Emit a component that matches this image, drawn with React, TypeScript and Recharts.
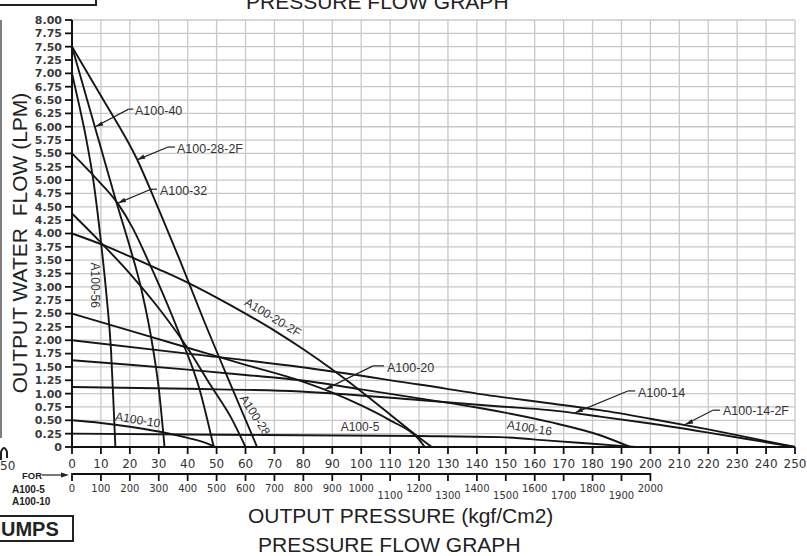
import React from 'react';
import { LineChart, Line, XAxis, YAxis, CartesianGrid, ReferenceDot, ReferenceLine } from 'recharts';

const W = 807;
const H = 556;
const PLOT_W = 723;
const LOW_MAX = 2500;

// flow (LPM) against pressure (kgf/cm2)
const a100_56 = [[0, 7.0], [2.5, 6.4], [5, 5.75], [7.5, 4.95], [10, 3.85], [12, 2.8], [13.5, 1.8], [14.4, 0.75], [15, 0]];
const a100_40 = [[0, 7.5], [5, 6.55], [10, 5.6], [15, 4.65], [20, 3.75], [24, 2.95], [28, 1.85], [30, 1.1], [32, 0]];
const a100_28_2f = [[0, 7.5], [10, 6.58], [22.4, 5.4], [30, 4.45], [37.3, 3.5], [45, 2.45], [55, 1.15], [64, 0]];
const a100_32 = [[0, 5.5], [8, 5.05], [16, 4.55], [21, 4.1], [26, 3.53], [32, 2.8], [38, 2.0], [44, 1.1], [49, 0]];
const a100_28 = [[0, 4.375], [10, 3.83], [20, 3.25], [30, 2.6], [40, 1.85], [48, 1.15], [55, 0.55], [60, 0]];
const a100_20_2f = [[0, 4.0], [10, 3.8], [20, 3.57], [30, 3.33], [40, 3.08], [50, 2.8], [60, 2.5], [70, 2.18], [80, 1.83], [90, 1.45], [100, 1.04], [110, 0.61], [120, 0.18], [124.4, 0]];
const a100_20 = [[0, 2.5], [20, 2.18], [40, 1.86], [60, 1.54], [79, 1.24], [90, 1.02], [100, 0.78], [110, 0.5], [120, 0.14], [122, 0]];
const a100_16 = [[0, 1.625], [20, 1.54], [40, 1.45], [60, 1.35], [79, 1.25], [100, 1.08], [120, 0.91], [140, 0.74], [165, 0.47], [182.6, 0.22], [193, 0]];
const a100_14_2f = [[0, 2.0], [40, 1.75], [79, 1.5], [120, 1.17], [148, 0.94], [165, 0.82], [182.6, 0.69], [200, 0.53], [220, 0.33], [240, 0.11], [250, 0]];
const a100_14 = [[0, 1.125], [40, 1.09], [79, 1.04], [120, 0.88], [148, 0.76], [165, 0.69], [182.6, 0.57], [200, 0.44], [220, 0.27], [240, 0.09], [250, 0]];
// these two are read on the lower scale (0-2000)
const a100_10 = [[0, 0.5], [100, 0.45], [200, 0.38], [300, 0.29], [400, 0.17], [460, 0.08], [495, 0]];
const a100_5 = [[0, 0.25], [400, 0.235], [800, 0.22], [1200, 0.205], [1480, 0.185], [1650, 0.12], [1800, 0.06], [1950, 0]];

const pressureTicks = [0, 10, 20, 30, 40, 50, 60, 70, 80, 90, 100, 110, 120, 130, 140, 150, 160, 170, 180, 190, 200, 210, 220, 230, 240, 250];
const lowTicks = [0, 100, 200, 300, 400, 500, 600, 700, 800, 900, 1000, 1100, 1200, 1300, 1400, 1500, 1600, 1700, 1800, 1900, 2000];
const flowTicks = [0, 0.25, 0.5, 0.75, 1, 1.25, 1.5, 1.75, 2, 2.25, 2.5, 2.75, 3, 3.25, 3.5, 3.75, 4, 4.25, 4.5, 4.75, 5, 5.25, 5.5, 5.75, 6, 6.25, 6.5, 6.75, 7, 7.25, 7.5, 7.75, 8];

const series = [
  { name: 'A100-56', pts: a100_56 },
  { name: 'A100-40', pts: a100_40 },
  { name: 'A100-28-2F', pts: a100_28_2f },
  { name: 'A100-32', pts: a100_32 },
  { name: 'A100-28', pts: a100_28 },
  { name: 'A100-20-2F', pts: a100_20_2f },
  { name: 'A100-20', pts: a100_20 },
  { name: 'A100-16', pts: a100_16 },
  { name: 'A100-14-2F', pts: a100_14_2f },
  { name: 'A100-14', pts: a100_14 },
  { name: 'A100-10', pts: a100_10, low: true },
  { name: 'A100-5', pts: a100_5, low: true },
];

// labels sitting on the curves (centre point, rotation)
const onCurve = [
  { text: 'A100-56', at: [7.95, 3.03], angle: 90 },
  { text: 'A100-20-2F', at: [69.5, 2.43], angle: 31 },
  { text: 'A100-28', at: [63.3, 0.6], angle: 57 },
  { text: 'A100-10', at: [22.8, 0.51], angle: 9 },
  { text: 'A100-16', at: [158.2, 0.36], angle: 9 },
  { text: 'A100-5', at: [99.6, 0.37], angle: 0 },
];

// labels with a leader arrow
const pointed = [
  { text: 'A100-40', at: [21.8, 6.22], from: [21.2, 6.33], elbow: [19.6, 6.33], tip: [8.0, 6.0] },
  { text: 'A100-28-2F', at: [36.3, 5.51], from: [35.6, 5.62], elbow: [33.2, 5.62], tip: [22.5, 5.38] },
  { text: 'A100-32', at: [30.4, 4.72], from: [29.4, 4.83], elbow: [27.3, 4.83], tip: [15.9, 4.57] },
  { text: 'A100-20', at: [108.9, 1.4], from: [107.9, 1.52], elbow: [104.1, 1.52], tip: [87.5, 1.08] },
  { text: 'A100-14', at: [195.7, 0.94], from: [194.7, 1.05], elbow: [192.2, 1.05], tip: [173.9, 0.64] },
  { text: 'A100-14-2F', at: [225.1, 0.6], from: [224.1, 0.69], elbow: [221.6, 0.69], tip: [212, 0.42] },
];

const toPts = (arr: number[][]) => arr.map(([x, y]) => ({ x, y }));

const sans = "'Liberation Sans', Arial, sans-serif";

const LowTick = (props: any) => {
  const { x, y, payload, index } = props;
  const v = payload.value;
  const step = (PLOT_W * 100) / LOW_MAX;
  const dropped = v >= 1100 && (v / 100) % 2 === 1;
  return (
    <g>
      {index < lowTicks.length - 1 && <line x1={x} y1={y} x2={x + step} y2={y} stroke="#111" strokeWidth={2} />}
      <line x1={x} y1={y - 1} x2={x} y2={y + 7} stroke="#111" strokeWidth={1.8} />
      <text x={x} y={y + (dropped ? 25 : 18)} textAnchor="middle" fontSize={10} fontFamily="DejaVu Sans" fill="#333">
        {v}
      </text>
    </g>
  );
};

const CurveText = ({ cx, cy, text, angle }: any) => (
  <text
    x={cx}
    y={cy}
    dy="0.35em"
    textAnchor="middle"
    transform={angle ? `rotate(${angle} ${cx} ${cy})` : undefined}
    fontSize={12}
    fontFamily={sans}
    fill="#333"
  >
    {text}
  </text>
);

const StartText = ({ cx, cy, text }: any) => (
  <text x={cx} y={cy} fontSize={12.5} fontFamily={sans} fill="#333">
    {text}
  </text>
);

const ArrowHead = ({ cx, cy }: any) => {
  const a = (156 * Math.PI) / 180;
  const bx = cx - Math.cos(a) * 8;
  const by = cy - Math.sin(a) * 8;
  const px = -Math.sin(a) * 2.3;
  const py = Math.cos(a) * 2.3;
  return <polygon points={`${cx},${cy} ${bx + px},${by + py} ${bx - px},${by - py}`} fill="#222" />;
};

export default function App() {
  return (
    <div style={{ position: 'absolute', left: 0, top: 0, width: W, height: H, background: '#fff' }}>
      <LineChart width={W} height={H} margin={{ top: 20, right: 12, left: 12, bottom: 42 }}>
        <CartesianGrid stroke="#c8c8c8" strokeWidth={1.3} />
        <XAxis
          dataKey="x"
          type="number"
          domain={[0, 250]}
          ticks={pressureTicks}
          interval={0}
          height={27}
          tickSize={7}
          tickMargin={5}
          axisLine={{ stroke: '#111', strokeWidth: 2 }}
          tickLine={{ stroke: '#111', strokeWidth: 1.8 }}
          tick={{ fontSize: 12, fill: '#333', fontFamily: 'DejaVu Sans' }}
        />
        <XAxis
          xAxisId="low"
          dataKey="x"
          type="number"
          domain={[0, LOW_MAX]}
          ticks={lowTicks}
          interval={0}
          height={40}
          tickSize={0}
          tickMargin={0}
          axisLine={false}
          tickLine={false}
          tick={<LowTick />}
        />
        <YAxis
          type="number"
          domain={[0, 8]}
          ticks={flowTicks}
          interval={0}
          width={60}
          tickSize={7}
          tickMargin={3}
          axisLine={{ stroke: '#111', strokeWidth: 2 }}
          tickLine={{ stroke: '#111', strokeWidth: 1.8 }}
          tick={{ fontSize: 11, fontWeight: 700, fill: '#3a3a3a', fontFamily: 'DejaVu Sans' }}
          tickFormatter={(v: number) => (v === 0 ? '0' : v.toFixed(2))}
        />
        {series.map((s) => (
          <Line
            key={s.name}
            name={s.name}
            data={toPts(s.pts)}
            dataKey="y"
            xAxisId={s.low ? 'low' : 0}
            type="monotone"
            stroke="#161616"
            strokeWidth={1.9}
            dot={false}
            isAnimationActive={false}
          />
        ))}
        {pointed.map((n) => (
          <ReferenceLine
            key={n.text + '-a'}
            segment={[{ x: n.from[0], y: n.from[1] }, { x: n.elbow[0], y: n.elbow[1] }]}
            stroke="#222"
            strokeWidth={1.2}
          />
        ))}
        {pointed.map((n) => (
          <ReferenceLine
            key={n.text + '-b'}
            segment={[{ x: n.elbow[0], y: n.elbow[1] }, { x: n.tip[0], y: n.tip[1] }]}
            stroke="#222"
            strokeWidth={1.2}
          />
        ))}
        {pointed.map((n) => (
          <ReferenceDot key={n.text + '-tip'} x={n.tip[0]} y={n.tip[1]} r={2} shape={(p: any) => <ArrowHead cx={p.cx} cy={p.cy} />} />
        ))}
        {pointed.map((n) => (
          <ReferenceDot key={n.text} x={n.at[0]} y={n.at[1]} r={2} shape={(p: any) => <StartText cx={p.cx} cy={p.cy} text={n.text} />} />
        ))}
        {onCurve.map((n) => (
          <ReferenceDot
            key={n.text}
            x={n.at[0]}
            y={n.at[1]}
            r={2}
            shape={(p: any) => <CurveText cx={p.cx} cy={p.cy} text={n.text} angle={n.angle} />}
          />
        ))}
      </LineChart>
      <svg width={W} height={H} style={{ position: 'absolute', left: 0, top: 0, pointerEvents: 'none' }} fontFamily={sans}>
        <path d="M0 5 H96 V0" fill="none" stroke="#222" strokeWidth={2} />
        <text x={246} y={9} fontSize={21} fill="#222">PRESSURE FLOW GRAPH</text>
        <line x1={1} y1={20} x2={1} y2={438} stroke="#555" strokeWidth={1.5} />
        <path d="M1 460 V452 Q4 444 7 452 V458" fill="none" stroke="#222" strokeWidth={2} />
        <text x={0} y={470} fontSize={12} fontFamily="DejaVu Sans" fill="#333">50</text>
        <text
          x={27}
          y={243}
          transform="rotate(-90 27 243)"
          textAnchor="middle"
          fontSize={21}
          fill="#222"
          style={{ whiteSpace: 'pre' }}
        >
          OUTPUT WATER  FLOW (LPM)
        </text>
        <text x={22} y={479} fontSize={9.5} fontWeight={700} fill="#222">FOR</text>
        <line x1={42} y1={475} x2={63} y2={475} stroke="#222" strokeWidth={1.2} />
        <polygon points="69,475 61,472.5 61,477.5" fill="#222" />
        <text x={12} y={493} fontSize={10} fontWeight={700} fill="#222">A100-5</text>
        <text x={12} y={505} fontSize={10} fontWeight={700} fill="#222">A100-10</text>
        <text x={248} y={523} fontSize={21} fill="#222">OUTPUT PRESSURE (kgf/Cm2)</text>
        <text x={258} y={552} fontSize={21} fill="#222">PRESSURE FLOW GRAPH</text>
        <rect x={-2} y={516} width={75} height={25} fill="none" stroke="#222" strokeWidth={2} />
        <text x={1} y={536} fontSize={20} fontWeight={700} fill="#222">UMPS</text>
      </svg>
    </div>
  );
}
